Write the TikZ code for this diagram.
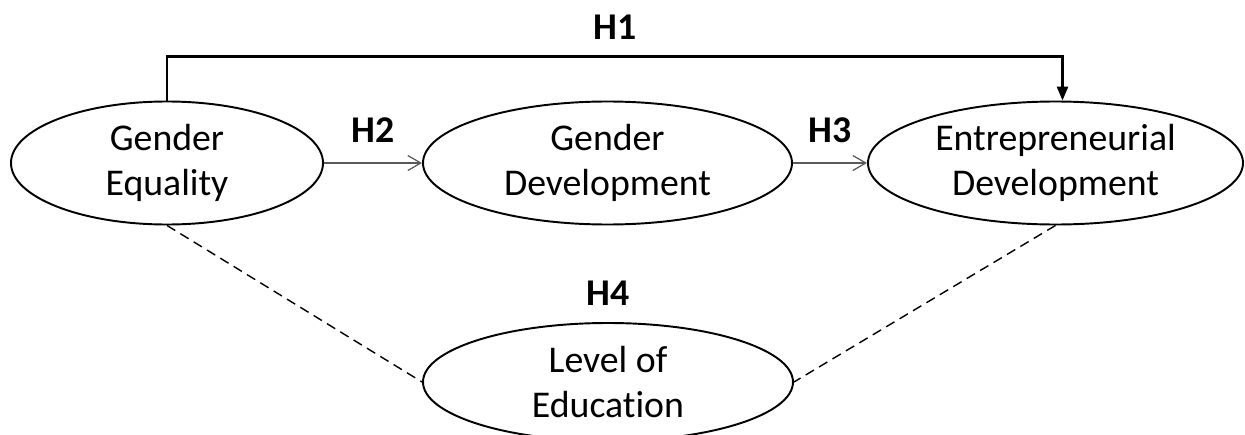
\documentclass[tikz,border=0pt]{standalone}
\usepackage{fontspec}
\setmainfont[Ligatures=NoCommon]{Carlito}
\usetikzlibrary{arrows.meta,positioning,shapes.geometric}

\begin{document}
\begin{tikzpicture}[
        font=\fontsize{21.5}{25.6}\selectfont,
        var/.style={draw, ellipse, line width=1.1pt, inner sep=0pt, minimum height=2.46cm, align=center},
        hlabel/.style={font=\fontsize{21.5}{25.6}\selectfont\bfseries},
        path/.style={draw=black!65, line width=0.7pt, -{Straight Barb[length=0.26cm, width=0.3cm]}},
        direct/.style={draw, line width=1.5pt, -{Triangle[length=0.28cm, width=0.22cm]}},
        moderate/.style={draw, dash pattern=on 5.5pt off 3.4pt, line width=0.8pt},
    ]
    \useasboundingbox (0,0) rectangle (24.9,8.68);
    \node[var, minimum width=6.24cm](equality) at (3.34,5.42){Gender\\Equality};
    \node[var, minimum width=7.38cm](gender) at (12.15,5.42){Gender\\Development};
    \node[var, minimum width=7.5cm](entre) at (21.11,5.42){Entrepreneurial\\Development};
    \node[var, minimum width=7.4cm, minimum height=2.36cm](education) at (12.16,1.04){Level of\\Education};
    \node[hlabel, above=0.2cm of education](h4){H4};

    \draw[direct] (equality.north) -- ++(0,0.88) coordinate(corner)
        -| node[hlabel, pos=0.25, above=0.2cm](h1){H1} ([xshift=0.14cm]entre.north);
    \draw[path] (equality) -- node[hlabel, above=0.28cm](h2){H2} (gender);
    \draw[path] (gender) -- node[hlabel, above=0.28cm](h3){H3} (entre);
    \draw[moderate] (equality.south) -- (education.west);
    \draw[moderate] (entre.south) -- (education.east);
\end{tikzpicture}
\end{document}
